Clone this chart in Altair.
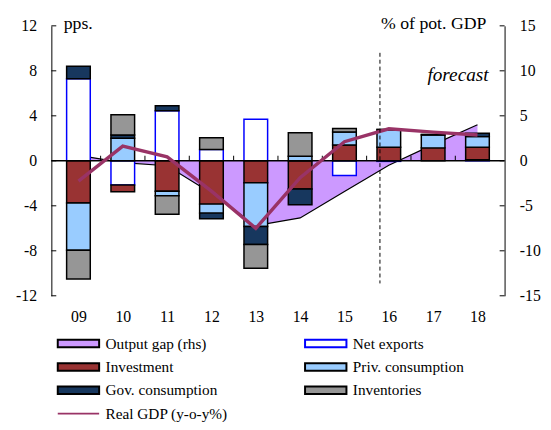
import altair as alt
import pandas as pd

# ---------------- data ----------------
years = [9, 10, 11, 12, 13, 14, 15, 16, 17, 18]
net_exports = [7.3, -2.15, 4.45, 1.0, 3.7, 0.0, -1.3, -0.05, 0.0, 0.1]
investment = [-3.75, -0.6, -2.7, -3.85, -1.95, -2.5, 1.4, 1.2, 1.15, 1.1]
priv_cons = [-4.2, 2.0, -0.4, -0.8, -3.9, 0.4, 1.17, 1.55, 1.15, 0.95]
gov_cons = [1.1, 0.3, 0.45, -0.5, -1.6, -1.4, 0.0, 0.05, 0.05, 0.3]
inventories = [-2.55, 1.8, -1.65, 1.05, -2.1, 2.1, 0.3, 0.0, 0.0, 0.0]
real_gdp = [-1.8, 1.3, 0.35, -2.7, -6.0, -1.5, 1.7, 2.85, 2.55, 2.3]
output_gap = [0.6, -0.2, -0.55, -3.6, -7.2, -6.35, -3.4, -0.5, 1.8, 4.0]

series_names = ["Output gap (rhs)", "Net exports", "Investment", "Priv. consumption",
                "Gov. consumption", "Inventories", "Real GDP (y-o-y%)"]
stack_order = ["Net exports", "Investment", "Priv. consumption", "Gov. consumption", "Inventories"]
left_ticks = [-12, -8, -4, 0, 4, 8, 12]
right_ticks = [-15, -10, -5, 0, 5, 10, 15]
boundaries = [9.5, 10.5, 11.5, 12.5, 13.5, 14.5, 15.5, 16.5, 17.5]

# ---------------- styles ----------------
fill_colors = ["#CC99FF", "#FFFFFF", "#993333", "#99CCFF", "#17375E", "#969696", "#993366"]
stroke_colors = ["#000000", "#0000FF", "#000000", "#000000", "#000000", "#000000", "#993366"]
RECT = "M-2,-0.36L2,-0.36L2,0.36L-2,0.36Z"
LINE = "M-2,0L2,0"
shapes = [RECT, RECT, RECT, RECT, RECT, RECT, LINE]
FONT = "Liberation Serif"
W, H = 460, 274

comp = {"Net exports": net_exports, "Investment": investment, "Priv. consumption": priv_cons,
        "Gov. consumption": gov_cons, "Inventories": inventories}
rows = []
for k, name in enumerate(stack_order):
    for yr, v in zip(years, comp[name]):
        if v != 0:
            rows.append({"year": yr, "series": name, "value": v, "ord": k})
bars_df = pd.DataFrame(rows)
lines_df = pd.DataFrame({"year": years, "gdp": real_gdp, "gap": output_gap})
leg_df = pd.DataFrame({"series": series_names, "lx": [100] * 7, "ly": [0] * 7})
lt_df = pd.DataFrame({"v": left_ticks})
rt_df = pd.DataFrame({"v": right_ticks})
bd_df = pd.DataFrame({"b": boundaries})
one_df = pd.DataFrame({"a": [0]})

xs = alt.Scale(domain=[8.5, 18.5], nice=False, zero=False)
ys = alt.Scale(domain=[-12, 12], nice=False, zero=False)
ys2 = alt.Scale(domain=[-15, 15], nice=False, zero=False)
fill_scale = alt.Scale(domain=series_names, range=fill_colors)
stroke_scale = alt.Scale(domain=series_names, range=stroke_colors)
shape_scale = alt.Scale(domain=series_names, range=shapes)

left_axis = alt.Axis(orient="left", values=left_ticks, ticks=False, domain=True,
                     domainColor="black", domainWidth=1, grid=False, labelPadding=15,
                     labelFont=FONT, labelFontSize=16, labelColor="black",
                     labelExpr="'' + datum.value", title="pps.", titleAngle=0, titleX=12, titleY=3,
                     titleAlign="left", titleBaseline="alphabetic", titleFont=FONT,
                     titleFontSize=18, titleFontWeight="normal", titleColor="black")
right_axis = alt.Axis(orient="right", values=right_ticks, ticks=False, domain=True,
                      domainColor="black", domainWidth=1, grid=False, labelPadding=15,
                      labelFont=FONT, labelFontSize=16, labelColor="black",
                      labelExpr="'' + datum.value", title="% of pot. GDP", titleAngle=0, titleX=-19,
                      titleY=3, titleAlign="right", titleBaseline="alphabetic", titleFont=FONT,
                      titleFontSize=18, titleFontWeight="normal", titleColor="black")
x_axis = alt.Axis(orient="bottom", values=years, ticks=False, domain=False, grid=False, labelPadding=13,
                  labelFont=FONT, labelFontSize=16, labelColor="black", title=None,
                  labelExpr="datum.value < 10 ? '0' + datum.value : '' + datum.value")

leg_common = dict(title=None, orient="none", direction="horizontal", legendX=16, legendY=311,
                  columns=2, columnPadding=74, rowPadding=3.7, symbolSize=441, symbolStrokeWidth=2,
                  labelFont=FONT, labelFontSize=15.5, labelColor="black", labelOffset=16,
                  padding=0, labelLimit=300)


def X(field):
    return alt.X(field, scale=xs, axis=x_axis)


area = alt.Chart(lines_df).mark_area(color="#CC99FF").encode(
    x=X("year:Q"),
    y=alt.Y("gap:Q", scale=ys2, axis=right_axis),
    y2=alt.datum(0),
)
area_line = alt.Chart(lines_df).mark_line(color="black", strokeWidth=1.2).encode(
    x=X("year:Q"),
    y=alt.Y("gap:Q", scale=ys2, axis=None),
)
rticks = alt.Chart(rt_df).mark_rule(color="black", strokeWidth=1).encode(
    y=alt.Y("v:Q", scale=ys2, axis=None),
    x=alt.value(W - 5), x2=alt.value(W),
)
bars = alt.Chart(bars_df).mark_bar(size=24, strokeWidth=1.5).encode(
    x=X("year:Q"),
    y=alt.Y("value:Q", scale=ys, axis=left_axis, stack="zero"),
    fill=alt.Fill("series:N", scale=fill_scale, legend=alt.Legend(**leg_common)),
    stroke=alt.Stroke("series:N", scale=stroke_scale, legend=alt.Legend(**leg_common)),
    order=alt.Order("ord:Q", sort="ascending"),
)
zero_rule = alt.Chart(one_df).mark_rule(color="black", strokeWidth=1.5).encode(
    y=alt.Y(datum=0, scale=ys, axis=None),
)
bticks = alt.Chart(bd_df).mark_rule(color="black", strokeWidth=1).encode(
    x=X("b:Q"),
    y=alt.Y(datum=0, scale=ys, axis=None),
    y2=alt.datum(0.45),
)
lticks = alt.Chart(lt_df).mark_rule(color="black", strokeWidth=1).encode(
    y=alt.Y("v:Q", scale=ys, axis=None),
    x=alt.value(0), x2=alt.value(5),
)
gdp = alt.Chart(lines_df).mark_line(color="#993366", strokeWidth=3.5).encode(
    x=X("year:Q"),
    y=alt.Y("gdp:Q", scale=ys, axis=None),
)
forecast_rule = alt.Chart(one_df).mark_rule(color="black", strokeWidth=1, strokeDash=[4, 3]).encode(
    x=alt.X(datum=15.8, scale=xs, axis=x_axis),
    y=alt.Y(datum=9.6, scale=ys, axis=None),
    y2=alt.datum(-10.9),
)
forecast_text = alt.Chart(one_df).mark_text(
    text="forecast", font=FONT, fontSize=19.5, fontStyle="italic", align="right",
    baseline="middle", color="black",
).encode(
    x=alt.X(datum=18.25, scale=xs, axis=x_axis),
    y=alt.Y(datum=7.6, scale=ys, axis=None),
)
legend_layer = alt.Chart(leg_df).mark_point(filled=True, clip=True, opacity=1).encode(
    x=X("lx:Q"),
    y=alt.Y("ly:Q", scale=ys, axis=None),
    fill=alt.Fill("series:N", scale=fill_scale, legend=alt.Legend(**leg_common)),
    stroke=alt.Stroke("series:N", scale=stroke_scale, legend=alt.Legend(**leg_common)),
    shape=alt.Shape("series:N", scale=shape_scale, legend=alt.Legend(**leg_common)),
)

chart = alt.layer(
    area, area_line, rticks, bars, zero_rule, bticks, lticks, gdp,
    forecast_rule, forecast_text, legend_layer,
).resolve_scale(y="independent").properties(
    width=W, height=H,
    autosize=alt.AutoSizeParams(type="none"),
    padding={"left": 44, "top": 15, "right": 39, "bottom": 125},
    title=alt.Title("contributions, output gap", font=FONT, fontSize=17, fontWeight="bold",
                    color="black", baseline="alphabetic", offset=12, dx=8, anchor="middle"),
).configure_view(stroke=None)

chart.save("out.html", embed_options={"renderer": "svg", "actions": False})
